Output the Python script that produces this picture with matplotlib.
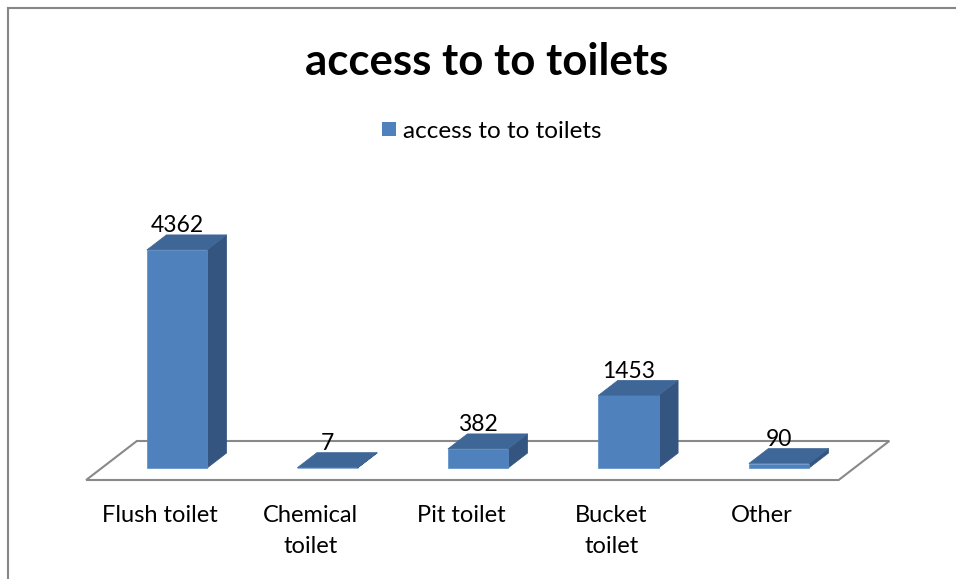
#!/usr/bin/env python3
"""
Grafico de barras 3D (estilo Excel) de acceso a sanitarios.
"""
import matplotlib
matplotlib.use("Agg")
import matplotlib.pyplot as plt
from matplotlib.patches import Polygon, Rectangle
from matplotlib.lines import Line2D

categorias = ["Flush toilet", "Chemical\ntoilet", "Pit toilet", "Bucket\ntoilet", "Other"]
valores = [4362, 7, 382, 1453, 90]
serie = "access to to toilets"
titulo = "access to to toilets"

W, H = 956, 579
PX_X = 150.5      # pixeles por categoria
PX_Y = 0.05       # pixeles por unidad
X0, Y0 = 177, 468  # pixel de la categoria 0 y del valor 0

FRONT = "#4F81BD"
TOP = "#3E6797"
SIDE = "#33557F"
GRIS = "#898989"

plt.rcParams["font.family"] = ["Lato", "DejaVu Sans"]


def proj(i, v, d):
    # proyeccion oblicua: d = profundidad en pixeles
    return (i + d * 1.3 / PX_X, v + d / PX_Y)


fig = plt.figure(figsize=(W / 100, H / 100), dpi=100)
ax = fig.add_axes([0, 0, 1, 1])
ax.set_xlim(-X0 / PX_X, (W - X0) / PX_X)
ax.set_ylim(-(H - Y0) / PX_Y, Y0 / PX_Y)
ax.axis("off")

# piso
n = len(valores)
piso = [proj(-0.5, 0, -12), proj(n - 0.5, 0, -12), proj(n - 0.5, 0, 27), proj(-0.5, 0, 27)]
ax.add_patch(Polygon(piso, closed=True, facecolor="white", edgecolor=GRIS, lw=1.5, zorder=1))

ancho = 0.4
prof = 15
barras = ax.bar(range(n), valores, width=ancho, color=FRONT, label=serie, zorder=3,
                edgecolor="#5A8CC6", linewidth=0.5)
for i, v in enumerate(valores):
    l, r = i - ancho / 2, i + ancho / 2
    top = [proj(l, v, 0), proj(r, v, 0), proj(r, v, prof), proj(l, v, prof)]
    side = [proj(r, 0, 0), proj(r, v, 0), proj(r, v, prof), proj(r, 0, prof)]
    ax.add_patch(Polygon(side, closed=True, facecolor=SIDE, edgecolor=SIDE, lw=0.5, zorder=2))
    ax.add_patch(Polygon(top, closed=True, facecolor=TOP, edgecolor=TOP, lw=0.5, zorder=4))
    ax.text(i, v + prof / PX_Y - 30, str(v), ha="center", va="bottom", fontsize=16.5, zorder=5)

# etiquetas de categoria
for i, c in enumerate(categorias):
    x, _ = proj(i, 0, -13)
    ax.text(x, -(505 - Y0) / PX_Y, c, ha="center", va="top", fontsize=17, linespacing=1.6)

fig.text(487 / W, 1 - 62 / H, titulo, ha="center", va="center", fontsize=31.5, fontweight="bold")

fig.legend(handles=[Rectangle((0, 0), 1, 1, facecolor=FRONT)], labels=[serie],
           loc="center", bbox_to_anchor=(492 / W, 1 - 131 / H), frameon=False,
           fontsize=17.5, handlelength=0.55, handleheight=0.55, handletextpad=0.3)

# marco
fig.add_artist(Line2D([8 / W, 1], [1 - 8 / H, 1 - 8 / H], color="#868686", lw=1.5))
fig.add_artist(Line2D([8 / W, 8 / W], [0, 1 - 8 / H], color="#868686", lw=1.5))

fig.savefig("out.png", dpi=100)
